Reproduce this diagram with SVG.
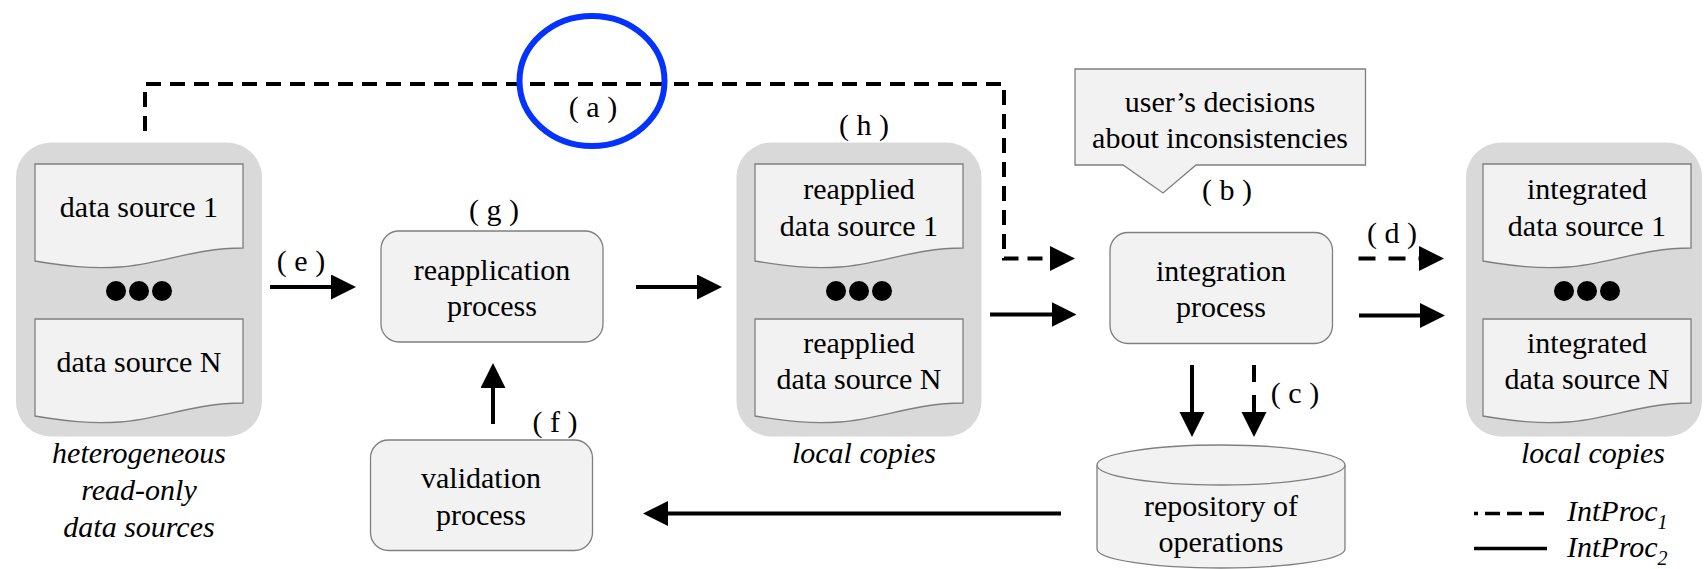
<svg xmlns="http://www.w3.org/2000/svg" width="1704" height="569" viewBox="0 0 1704 569" font-family="'Liberation Serif', 'Times New Roman', serif">
<defs>
<style>
.t{font-family:"Liberation Serif","Times New Roman",serif;font-size:30px;fill:#000;text-anchor:middle}
.it{font-style:italic}
.cont{fill:#d9d9d9}
.doc{fill:#f2f2f2;stroke:#7f7f7f;stroke-width:1.3}
.box{fill:#f2f2f2;stroke:#7f7f7f;stroke-width:1.3}
.dot{fill:#000}
.ln{fill:none;stroke:#000;stroke-width:4}
.arr{marker-end:url(#ah)}
.d1{stroke-dasharray:15 9}
.d2{stroke-dasharray:17 13}
</style>
<marker id="ah" markerUnits="userSpaceOnUse" markerWidth="26" markerHeight="26" refX="15" refY="12.5" orient="auto"><path d="M0,0 L25,12.5 L0,25 Z" fill="#000"/></marker>
<path id="docshape" d="M0,0 H208 V84 C160,84 125,100 85,103 C55,105 30,102 0,97 Z"/>
</defs>

<g id="sources">
<rect class="cont" x="16" y="142.5" width="246" height="294" rx="35"/>
<use href="#docshape" class="doc" x="35" y="164"/>
<use href="#docshape" class="doc" x="35" y="319"/>
<text class="t" x="139" y="217">data source 1</text>
<circle class="dot" cx="116" cy="291" r="10"/><circle class="dot" cx="139" cy="291" r="10"/><circle class="dot" cx="162" cy="291" r="10"/>
<text class="t" x="139" y="372">data source N</text>
<text class="t it" x="139" y="463">heterogeneous</text>
<text class="t it" x="139" y="500">read-only</text>
<text class="t it" x="139" y="537">data sources</text>
</g>

<g id="reapplication">
<rect class="box" x="381" y="231" width="222" height="111" rx="18"/>
<text class="t" x="492" y="280">reapplication</text>
<text class="t" x="492" y="316">process</text>
</g>

<g id="validation">
<rect class="box" x="370.5" y="440" width="222" height="110.5" rx="18"/>
<text class="t" x="481" y="488">validation</text>
<text class="t" x="481" y="525">process</text>
</g>

<g id="reapplied">
<rect class="cont" x="736.5" y="142.5" width="245" height="294" rx="35"/>
<use href="#docshape" class="doc" x="755" y="164"/>
<use href="#docshape" class="doc" x="755" y="319"/>
<text class="t" x="859" y="199">reapplied</text>
<text class="t" x="859" y="236">data source 1</text>
<circle class="dot" cx="836" cy="291" r="10"/><circle class="dot" cx="859" cy="291" r="10"/><circle class="dot" cx="882" cy="291" r="10"/>
<text class="t" x="859" y="353">reapplied</text>
<text class="t" x="859" y="389">data source N</text>
<text class="t it" x="864" y="463">local copies</text>
</g>

<g id="decisions">
<path class="box" d="M1075,69 H1365.5 V165 H1196 L1163,193 L1123,165 H1075 Z"/>
<text class="t" x="1220" y="112">user’s decisions</text>
<text class="t" x="1220" y="148">about inconsistencies</text>
</g>

<g id="integration">
<rect class="box" x="1110" y="232.5" width="222.5" height="111" rx="18"/>
<text class="t" x="1221" y="281">integration</text>
<text class="t" x="1221" y="317">process</text>
</g>

<g id="repository">
<path class="box" d="M1097,465 V549 A124,19 0 0 0 1345,549 V465"/>
<ellipse class="box" cx="1221" cy="465" rx="124" ry="20"/>
<text class="t" x="1221" y="516">repository of</text>
<text class="t" x="1221" y="552">operations</text>
</g>

<g id="integrated">
<rect class="cont" x="1466" y="142.5" width="236" height="294" rx="35"/>
<use href="#docshape" class="doc" x="1483" y="164"/>
<use href="#docshape" class="doc" x="1483" y="319"/>
<text class="t" x="1587" y="199">integrated</text>
<text class="t" x="1587" y="236">data source 1</text>
<circle class="dot" cx="1564" cy="291" r="10"/><circle class="dot" cx="1587" cy="291" r="10"/><circle class="dot" cx="1610" cy="291" r="10"/>
<text class="t" x="1587" y="353">integrated</text>
<text class="t" x="1587" y="389">data source N</text>
<text class="t it" x="1593" y="463">local copies</text>
</g>

<g id="connectors">
<path class="ln d1 arr" d="M145,131 V84 H1004 V258.5 H1065"/>
<path class="ln arr" d="M270,287 H346"/>
<path class="ln arr" d="M636,287 H712"/>
<path class="ln arr" d="M990,314.5 H1066.5"/>
<path class="ln arr" d="M1359,315.5 H1435"/>
<path class="ln d2 arr" d="M1358.5,258.5 H1434"/>
<path class="ln arr" d="M1192,365 V427"/>
<path class="ln d2 arr" d="M1254,365 V427"/>
<path class="ln arr" d="M493,424 V373"/>
<path class="ln arr" d="M1061,513.5 H653"/>
</g>

<g id="labels">
<text class="t" x="593" y="117">( a )</text>
<text class="t" x="1227" y="200">( b )</text>
<text class="t" x="1295" y="403">( c )</text>
<text class="t" x="1392" y="243">( d )</text>
<text class="t" x="301" y="271">( e )</text>
<text class="t" x="555" y="432">( f )</text>
<text class="t" x="494" y="220">( g )</text>
<text class="t" x="864" y="135">( h )</text>
</g>

<g id="highlight">
<ellipse cx="592" cy="81" rx="72.5" ry="65" fill="none" stroke="#0433ff" stroke-width="6"/>
</g>

<g id="legend">
<path class="ln" style="stroke-width:3.5;stroke-dasharray:4 7 15 7 15 7 15" d="M1474,513.5 H1547"/>
<path class="ln" style="stroke-width:3.5" d="M1474,548.5 H1547"/>
<text class="t it" style="text-anchor:start" x="1567" y="521">IntProc<tspan font-size="20" dy="8">1</tspan></text>
<text class="t it" style="text-anchor:start" x="1567" y="557">IntProc<tspan font-size="20" dy="8">2</tspan></text>
</g>
</svg>
